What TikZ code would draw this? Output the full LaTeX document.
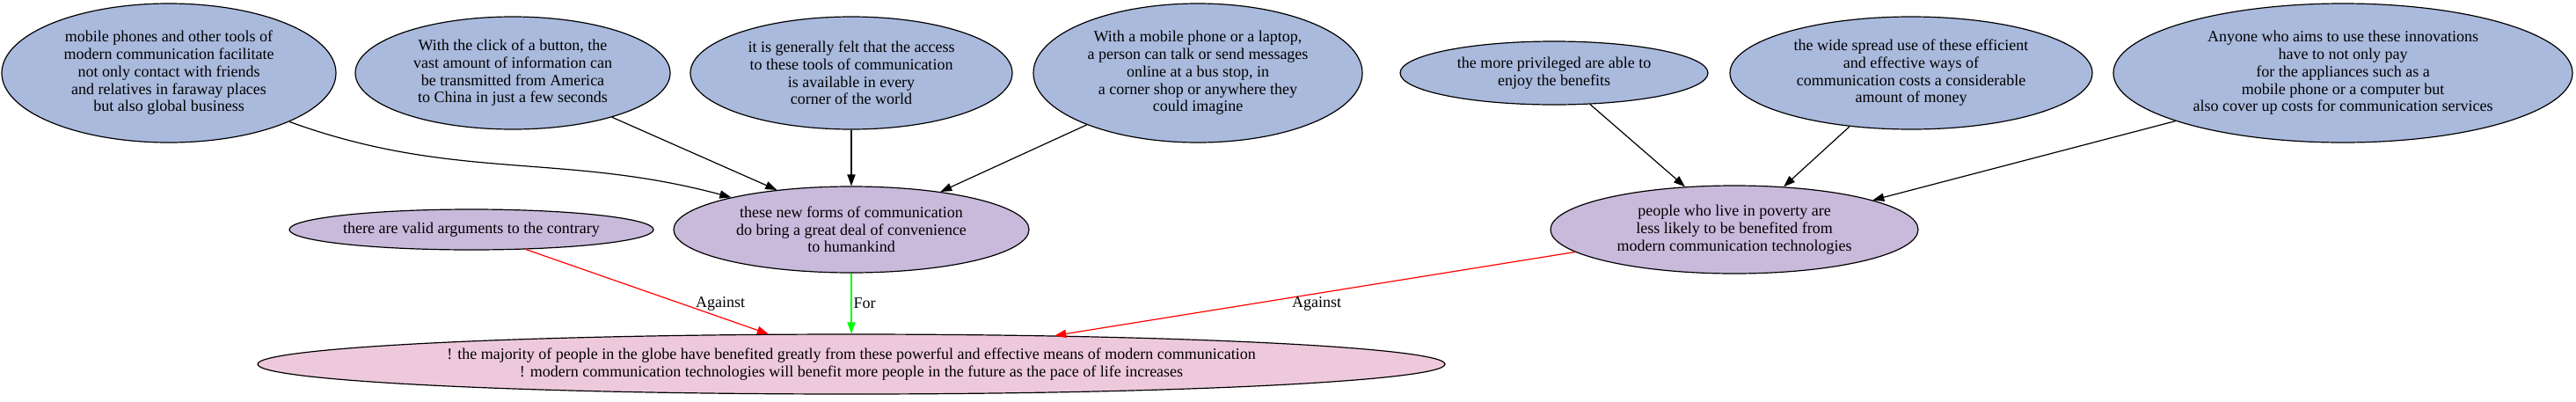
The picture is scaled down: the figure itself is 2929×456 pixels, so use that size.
\documentclass[tikz,border=0pt]{standalone}
\usepackage{fontspec}
\setmainfont{Liberation Serif}
\usetikzlibrary{shapes.geometric,arrows.meta}
\definecolor{premblue}{HTML}{AABADD}
\definecolor{argpurple}{HTML}{C9BADC}
\definecolor{claimpink}{HTML}{EEC9DC}

\begin{document}
\begin{tikzpicture}[x=0.5pt, y=-0.5pt, line width=0.6pt, >={Triangle[length=6.5pt,width=4.6pt]}]
	\newcommand{\ytop}{83}
	\newcommand{\ymid}{261}
	\newcommand{\ybot}{414}
	\tikzstyle{every node}=[font=\fontsize{9}{9.85}\selectfont, align=center, inner sep=0]
	\tikzstyle{bubble}=[ellipse, draw, line width=0.6pt]
	\tikzstyle{premise}=[bubble, fill=premblue]
	\tikzstyle{reason}=[bubble, fill=argpurple]
	\useasboundingbox (0,0) rectangle (2929,456);
	% top row
	\node[premise, minimum width=190pt, minimum height=79pt] (P1) at (192,\ytop) {mobile phones and other tools of\\modern communication facilitate\\not only contact with friends\\and relatives in faraway places\\but also global business};
	\node[premise, minimum width=179pt, minimum height=64pt] (P2) at (583,\ytop) {With the click of a button, the\\vast amount of information can\\be transmitted from America\\to China in just a few seconds};
	\node[premise, minimum width=183pt, minimum height=64pt] (P3) at (968,\ytop) {it is generally felt that the access\\to these tools of communication\\is available in every\\corner of the world};
	\node[premise, minimum width=187pt, minimum height=79pt] (P4) at (1362,\ytop) {With a mobile phone or a laptop,\\a person can talk or send messages\\online at a bus stop, in\\a corner shop or anywhere they\\could imagine};
	\node[premise, minimum width=175pt, minimum height=36pt] (C1) at (1767,\ytop) {the more privileged are able to\\enjoy the benefits};
	\node[premise, minimum width=206pt, minimum height=64pt] (C2) at (2173,\ytop) {the wide spread use of these efficient\\and effective ways of\\communication costs a considerable\\amount of money};
	\node[premise, minimum width=261pt, minimum height=79pt] (C3) at (2664,\ytop) {Anyone who aims to use these innovations\\have to not only pay\\for the appliances such as a\\mobile phone or a computer but\\also cover up costs for communication services};
	% middle row
	\node[reason, minimum width=207pt, minimum height=23pt] (Ctr) at (536,\ymid) {there are valid arguments to the contrary};
	\node[reason, minimum width=202pt, minimum height=49pt] (Pro) at (968,\ymid) {these new forms of communication\\do bring a great deal of convenience\\to humankind};
	\node[reason, minimum width=209pt, minimum height=50pt] (Con) at (1972,\ymid) {people who live in poverty are\\less likely to be benefited from\\modern communication technologies};
	% claim
	\node[bubble, fill=claimpink, minimum width=675pt, minimum height=34pt] (Cl) at (968,\ybot) {! the majority of people in the globe have benefited greatly from these powerful and effective means of modern communication\\! modern communication technologies will benefit more people in the future as the pace of life increases};
	% edges
	\draw[->] (P1.-22.5) to[out=-20, in=165] (Pro.165);
	\foreach \s/\a/\b in {P2/-24.7/152.5, P3/-90/90, P4/205.4/23}
		{\draw[->] (\s.\a) -- (Pro.\b);}
	\foreach \s/\a/\b in {C1/-41.3/139.3, C2/221.5/41.7, C3/196.4/12}
		{\draw[->] (\s.\a) -- (Con.\b);}
	\draw[->, red] (Ctr.-20) -- (Cl.160.9);
	\draw[->, green] (Pro.south) -- (Cl.north);
	\draw[->, red] (Con.188.7) -- (Cl.8.6);
	\node (L1) at (819,345) {Against};
	\node[anchor=west] (L2) at (970,345) {For};
	\node (L3) at (1497,345) {Against};
\end{tikzpicture}
\end{document}
